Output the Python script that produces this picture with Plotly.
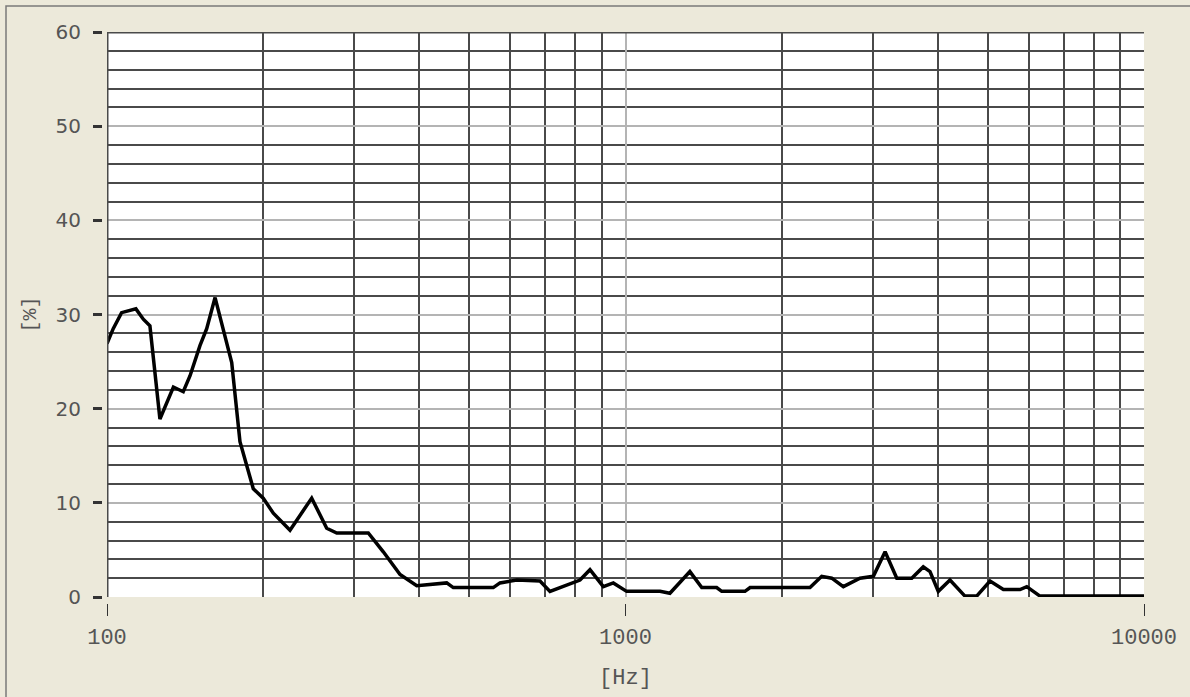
import plotly.graph_objects as go

# ---- data ----
freq_hz = [100, 102.8, 106.7, 113.7, 117.5, 121.0, 126.5, 130.3, 134.3, 140.3,
           144.6, 151.1, 155.7, 161.6, 168.9, 174.0, 180.5, 191.5, 200.1, 209.3,
           225.4, 248.2, 265.3, 277.4, 319.1, 341.1, 367.4, 395.7, 452.0, 465.4,
           555.9, 572.7, 617.1, 684.0, 715.1, 758.6, 817.0, 854.1, 906.2, 947.3,
           1005, 1166, 1218, 1331, 1403, 1499, 1533, 1700, 1739, 2269,
           2390, 2499, 2631, 2833, 3006, 3167, 3336, 3565, 3752, 3866,
           4011, 4225, 4515, 4756, 5047, 5355, 5767, 5941, 6301, 10000]
thd_pct = [26.9, 28.5, 30.2, 30.6, 29.5, 28.8, 18.9, 20.7, 22.3, 21.8,
           23.5, 26.7, 28.5, 31.8, 27.8, 24.9, 16.5, 11.5, 10.5, 8.9,
           7.1, 10.5, 7.3, 6.8, 6.8, 4.8, 2.4, 1.2, 1.5, 1.0,
           1.0, 1.5, 1.8, 1.7, 0.6, 1.1, 1.8, 2.9, 1.1, 1.5,
           0.6, 0.6, 0.4, 2.7, 1.0, 1.0, 0.6, 0.6, 1.0, 1.0,
           2.2, 2.0, 1.1, 2.0, 2.2, 4.8, 2.0, 2.0, 3.2, 2.7,
           0.6, 1.8, 0.1, 0.1, 1.7, 0.8, 0.8, 1.1, 0.1, 0.1]

x_tick_vals = [100, 1000, 10000]
x_tick_text = ["100", "1000", "10000"]
y_tick_vals = [0, 10, 20, 30, 40, 50, 60]
y_tick_text = ["0", "10", "20", "30", "40", "50", "60"]

# ---- layout geometry ----
W, H = 1190, 697
ML, MR, MT, MB = 102, 46, 32, 92
PW = W - ML - MR
PH = H - MT - MB
GAP_X = 5
GAP_Y = 6

BG = "#ece9da"
DARK = "#4a4a4a"
LIGHT = "#b4b4b4"
TXT = "#555555"

fig = go.Figure()
fig.add_trace(go.Scatter(
    x=freq_hz, y=thd_pct, mode="lines",
    line=dict(color="#000000", width=3.5),
    showlegend=False, hoverinfo="x+y",
))

fig.update_layout(
    width=W, height=H,
    margin=dict(l=ML, r=MR, t=MT, b=MB),
    paper_bgcolor=BG,
    plot_bgcolor="#ffffff",
    xaxis=dict(
        type="log", range=[2, 4],
        domain=[GAP_X / PW, 1],
        anchor="free", position=0,
        tickvals=x_tick_vals, ticktext=x_tick_text,
        ticks="outside", ticklen=12, tickwidth=1, tickcolor="#333333",
        ticklabelstandoff=2,
        showgrid=True, gridcolor=LIGHT, gridwidth=1.5,
        minor=dict(dtick="D1", showgrid=True, gridcolor=DARK, gridwidth=2.4, ticks=""),
        showline=False, zeroline=False,
        tickfont=dict(family="Liberation Mono", size=22, color=TXT),
        title=dict(text="[Hz]", font=dict(family="Liberation Mono", size=22, color=TXT),
                   standoff=18),
    ),
    yaxis=dict(
        range=[0, 60],
        domain=[GAP_Y / PH, 1],
        anchor="free", position=0,
        tickvals=y_tick_vals, ticktext=y_tick_text,
        ticks="outside", ticklen=9, tickwidth=3, tickcolor="#333333",
        ticklabelstandoff=8,
        showgrid=True, gridcolor=LIGHT, gridwidth=1.5,
        minor=dict(dtick=2, showgrid=True, gridcolor=DARK, gridwidth=2.4, ticks=""),
        showline=False, zeroline=False,
        tickfont=dict(family="DejaVu Sans", size=20, color=TXT),
        title=dict(text="[%]", font=dict(family="Liberation Mono", size=20, color=TXT),
                   standoff=12),
    ),
    shapes=[
        # top border of plot area
        dict(type="line", xref="paper", yref="y", x0=GAP_X / PW, x1=1, y0=60, y1=60,
             line=dict(color=DARK, width=3)),
        # left border of plot area
        dict(type="line", xref="x", yref="paper", x0=100, x1=100, y0=GAP_Y / PH, y1=1,
             line=dict(color=DARK, width=3)),
        # outer frame
        dict(type="rect", xref="paper", yref="paper",
             x0=(6 - ML) / PW, x1=(W + 20 - ML) / PW,
             y0=-(MB + 20) / PH, y1=(H - MB - 6) / PH,
             line=dict(color="#7a7a7a", width=1.5), fillcolor="rgba(0,0,0,0)"),
    ],
)

fig.write_html(
    "out.html",
    config={"displayModeBar": False},
    post_script="document.body.style.margin='0';document.body.style.overflow='hidden';",
)
